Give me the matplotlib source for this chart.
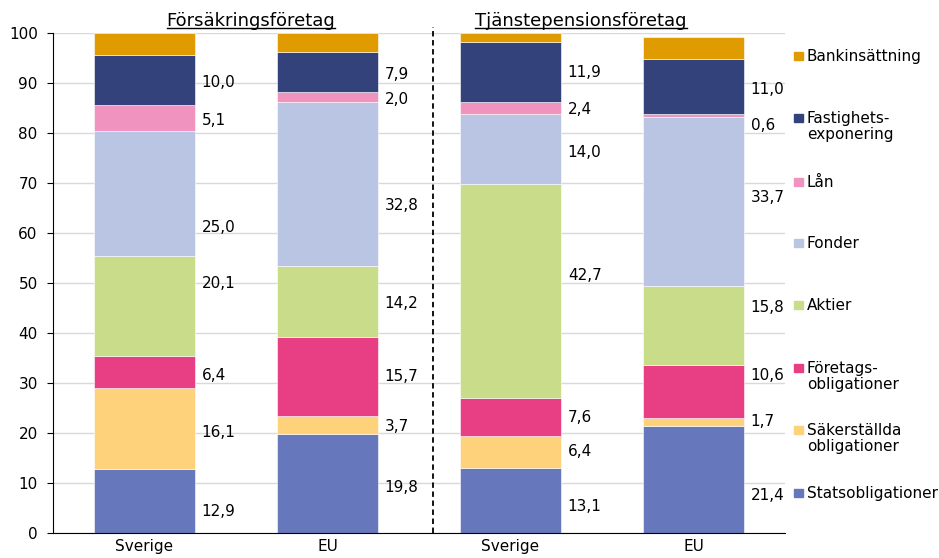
import matplotlib
matplotlib.use("Agg")
import matplotlib.pyplot as plt
from matplotlib.patches import Rectangle
from matplotlib.lines import Line2D
import numpy as np

# data (procent), bottom -> top
bars = ["Sverige", "EU", "Sverige", "EU"]
categories = ["Statsobligationer", "Säkerställda\nobligationer", "Företags-\nobligationer",
              "Aktier", "Fonder", "Lån", "Fastighets-\nexponering", "Bankinsättning"]
stats = [12.9, 19.8, 13.1, 21.4]
sakerstallda = [16.1, 3.7, 6.4, 1.7]
foretags = [6.4, 15.7, 7.6, 10.6]
aktier = [20.1, 14.2, 42.7, 15.8]
fonder = [25.0, 32.8, 14.0, 33.7]
lan = [5.1, 2.0, 2.4, 0.6]
fastighet = [10.0, 7.9, 11.9, 11.0]
bank = [4.4, 3.9, 1.9, 4.4]  # not labelled in the chart
groups = ["Försäkringsföretag", "Tjänstepensionsföretag"]

colors = ["#6677bb", "#fdd27a", "#e83e84", "#c8dc8a", "#b9c5e3", "#f093be", "#33427a", "#e09b00"]

# label nudges (data units) so the numbers sit like in the original
nudge = [
    [-2.2, -0.9, -0.7, 4.5, -6.9, -0.6, -0.5],
    [-0.9, -0.4, -0.1, -0.3, -4.4, -0.6, -0.5],
    [-1.3, 0.0, -0.3, 3.1, -0.8, -0.4, -0.1],
    [-3.3, 0.0, 3.0, 3.4, 0.7, -2.0, -0.5],
]

series = [stats, sakerstallda, foretags, aktier, fonder, lan, fastighet, bank]

W, H = 939, 558
fig = plt.figure(figsize=(W / 100, H / 100), dpi=100)
ax = fig.add_axes([53 / W, 25 / H, 732 / W, 500 / H])

x = np.arange(len(bars))
width = 0.55
bottom = np.zeros(len(bars))
for i, vals in enumerate(series):
    ax.bar(x, vals, width, bottom=bottom, color=colors[i], edgecolor="white",
           linewidth=0.4, zorder=2)
    if i < 7:
        for j, v in enumerate(vals):
            yc = bottom[j] + v / 2 + nudge[j][i]
            ax.annotate(f"{v:.1f}".replace(".", ","), (x[j] + width / 2, yc),
                        xytext=(5, 0), textcoords="offset points",
                        ha="left", va="center", fontsize=11)
    bottom += np.array(vals)

ax.set_xlim(-0.5, 3.5)
ax.set_ylim(0, 100)
ax.set_yticks(range(0, 101, 10))
ax.set_xticks(x)
ax.set_xticklabels(bars)
ax.tick_params(axis="x", length=0, pad=4, labelsize=11)
ax.tick_params(axis="y", length=4, pad=7, labelsize=11)
ax.yaxis.grid(True, color="#d9d9d9", linewidth=1, zorder=0)
ax.set_axisbelow(True)
for s in ["top", "right"]:
    ax.spines[s].set_visible(False)

# dashed separator between the two groups
ax.plot([1.577, 1.577], [0, 101.3], color="black", linestyle=(0, (3, 2)),
        linewidth=1.3, clip_on=False, zorder=3)

# group headers, underlined
hdrs = []
for gx, name in zip([0.582, 2.385], groups):
    hdrs.append(ax.text(gx, 101.5, name, ha="center", va="baseline", fontsize=13))
fig.canvas.draw()
r = fig.canvas.get_renderer()
for t in hdrs:
    bb = t.get_window_extent(r)
    yline = (bb.y0 + 2) / H
    fig.add_artist(Line2D([bb.x0 / W, bb.x1 / W], [yline, yline], color="black",
                          linewidth=1.0))

# legend, top to bottom
leg_y = [56, 118, 182, 243, 305, 368, 430, 493]
for k, cat in enumerate(categories[::-1]):
    idx = len(categories) - 1 - k
    yp = leg_y[k]
    fig.add_artist(Rectangle((794 / W, (H - yp - 4) / H), 9 / W, 8 / H,
                             color=colors[idx], transform=fig.transFigure))
    fig.text(807 / W, (H - yp + 7) / H, cat, ha="left", va="top", fontsize=11,
             linespacing=1.1)

fig.savefig("out.png", dpi=100)
